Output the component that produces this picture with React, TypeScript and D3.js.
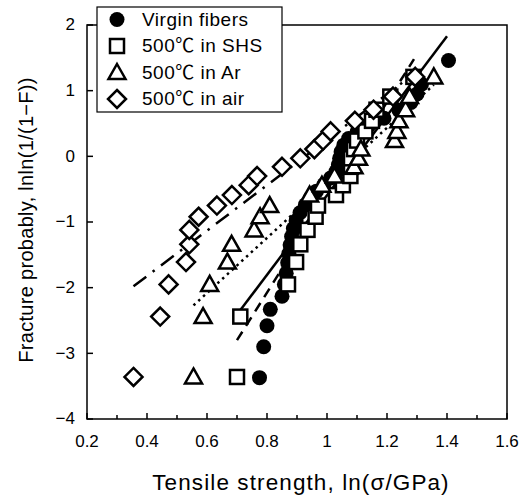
import React from "react";
import * as d3 from "d3";

const W = 522;
const H = 496;

const xTicks = [0.2, 0.4, 0.6, 0.8, 1, 1.2, 1.4, 1.6];
const xTickLabels = ["0.2", "0.4", "0.6", "0.8", "1", "1.2", "1.4", "1.6"];
const yTicks = [-4, -3, -2, -1, 0, 1, 2];
const yTickLabels = ["\u22124", "\u22123", "\u22122", "\u22121", "0", "1", "2"];

const seriesNames = ["Virgin fibers", "500\u2103 in SHS", "500\u2103 in Ar", "500\u2103 in air"];

// rank values (y) shared by the treated series, as read
const rankY = [-3.36, -2.44, -1.95, -1.61, -1.34, -1.12, -0.92, -0.75, -0.59, -0.44, -0.3, -0.16, -0.03, 0.11, 0.24, 0.38, 0.54, 0.71, 0.91, 1.21];

const virginX = [0.775, 0.789, 0.8, 0.811, 0.85, 0.858, 0.864, 0.869, 0.873, 0.877, 0.882, 0.888, 0.897, 0.91, 0.928, 0.945, 0.965, 0.99, 1.012, 1.03, 1.038, 1.042, 1.047, 1.056, 1.072, 1.1, 1.14, 1.19, 1.24, 1.28, 1.3, 1.315, 1.405];
const virginY = [-3.37, -2.9, -2.58, -2.33, -2.13, -1.95, -1.78, -1.62, -1.48, -1.35, -1.22, -1.1, -0.98, -0.86, -0.74, -0.63, -0.53, -0.43, -0.33, -0.23, -0.13, -0.03, 0.07, 0.17, 0.27, 0.37, 0.47, 0.58, 0.7, 0.82, 0.95, 1.1, 1.46];

const shsX = [0.7, 0.711, 0.87, 0.897, 0.911, 0.935, 0.962, 0.97, 1.03, 1.053, 1.078, 1.08, 1.08, 1.09, 1.1, 1.128, 1.15, 1.165, 1.211, 1.288];
const arX = [0.555, 0.587, 0.609, 0.668, 0.682, 0.757, 0.777, 0.809, 0.942, 0.983, 1.025, 1.09, 1.105, 1.113, 1.225, 1.233, 1.24, 1.262, 1.275, 1.356];
const airX = [0.355, 0.444, 0.472, 0.53, 0.541, 0.541, 0.572, 0.633, 0.683, 0.739, 0.767, 0.85, 0.911, 0.958, 0.987, 1.012, 1.093, 1.155, 1.22, 1.294];

// fitted lines: [x0, y0, x1, y1]
const fitSolid = [0.7, -2.41, 1.4, 1.83];
const fitDashed = [0.7, -2.8, 1.29, 1.48];
const fitDotted = [0.555, -2.27, 1.356, 1.09];
const fitDashDot = [0.355, -1.98, 1.294, 1.27];

const M = { left: 87, right: 507, top: 25, bottom: 419 };

export default function App() {
  const x = d3.scaleLinear().domain([0.2, 1.6]).range([M.left, M.right]);
  const y = d3.scaleLinear().domain([-4, 2]).range([M.bottom, M.top]);
  const font = "'Liberation Sans', Arial, 'Noto Sans CJK JP', sans-serif";
  const sw = 2.5;

  const minorX = d3.range(0.3, 1.6, 0.2);

  const line = (f: number[], dash?: string) => (
    <line x1={x(f[0])} y1={y(f[1])} x2={x(f[2])} y2={y(f[3])} stroke="#000" strokeWidth={2.5} strokeDasharray={dash} />
  );

  const circle = (cx: number, cy: number, k: any) => <circle key={k} cx={cx} cy={cy} r={7.5} fill="#000" />;
  const square = (cx: number, cy: number, k: any) => (
    <rect key={k} x={cx - 7} y={cy - 7} width={14} height={14} fill="#fff" stroke="#000" strokeWidth={sw} />
  );
  const tri = (cx: number, cy: number, k: any) => (
    <path key={k} d={`M${cx},${cy - 8.5} L${cx + 8.5},${cy + 6.5} L${cx - 8.5},${cy + 6.5} Z`} fill="#fff" stroke="#000" strokeWidth={sw} strokeLinejoin="miter" />
  );
  const diamond = (cx: number, cy: number, k: any) => (
    <path key={k} d={`M${cx},${cy - 9} L${cx + 9},${cy} L${cx},${cy + 9} L${cx - 9},${cy} Z`} fill="#fff" stroke="#000" strokeWidth={sw} />
  );

  const legendRows = [19.5, 46, 72.5, 99];
  const legendMarkers = [circle, square, tri, diamond];

  return (
    <svg width={W} height={H} style={{ position: "absolute", left: 0, top: 0, background: "#fff" }} fontFamily={font}>
      <rect x={0} y={0} width={W} height={H} fill="#fff" />
      {/* fit lines */}
      {line(fitSolid)}
      {line(fitDashed, "10,7")}
      {line(fitDotted, "2.5,4")}
      {line(fitDashDot, "16,8,2.5,8")}
      {/* markers */}
      {virginX.map((v, i) => circle(x(v), y(virginY[i]), "v" + i))}
      {shsX.map((v, i) => square(x(v), y(rankY[i]), "s" + i))}
      {arX.map((v, i) => tri(x(v), y(rankY[i]), "a" + i))}
      {airX.map((v, i) => diamond(x(v), y(rankY[i]), "d" + i))}
      {/* frame */}
      <rect x={M.left} y={M.top} width={M.right - M.left} height={M.bottom - M.top} fill="none" stroke="#000" strokeWidth={1.5} />
      {/* x ticks */}
      {xTicks.map((t) => (
        <line key={"xt" + t} x1={x(t)} x2={x(t)} y1={M.bottom} y2={M.bottom - 6} stroke="#000" strokeWidth={1.5} />
      ))}
      {minorX.map((t) => (
        <line key={"xm" + t} x1={x(t)} x2={x(t)} y1={M.bottom} y2={M.bottom - 4} stroke="#000" strokeWidth={1.5} />
      ))}
      {xTicks.map((t, i) => (
        <text key={"xl" + t} x={x(t)} y={M.bottom + 28} fontSize={17} textAnchor="middle">{xTickLabels[i]}</text>
      ))}
      {/* y ticks */}
      {yTicks.map((t, i) => (
        <g key={"yt" + t}>
          <line x1={M.left} x2={M.left + 6} y1={y(t)} y2={y(t)} stroke="#000" strokeWidth={1.5} />
          <text x={M.left - 12} y={y(t) + 1} fontSize={17} textAnchor="end" dominantBaseline="middle">{yTickLabels[i]}</text>
        </g>
      ))}
      {/* axis titles */}
      <text x={301} y={490} fontSize={22.5} letterSpacing={1.1} textAnchor="middle">Tensile strength, ln(σ/GPa)</text>
      <text transform={`translate(28,220) rotate(-90)`} fontSize={20} letterSpacing={0.3} textAnchor="middle" dominantBaseline="middle">Fracture probably, lnln(1/(1−F))</text>
      {/* legend */}
      <rect x={97} y={7} width={185} height={105} fill="#fff" stroke="#000" strokeWidth={1.2} />
      {seriesNames.map((n, i) => (
        <g key={"lg" + i}>
          {legendMarkers[i](117, legendRows[i], "lm" + i)}
          <text x={142} y={legendRows[i] + 1} fontSize={19} letterSpacing={0.5} dominantBaseline="middle">{n}</text>
        </g>
      ))}
    </svg>
  );
}
